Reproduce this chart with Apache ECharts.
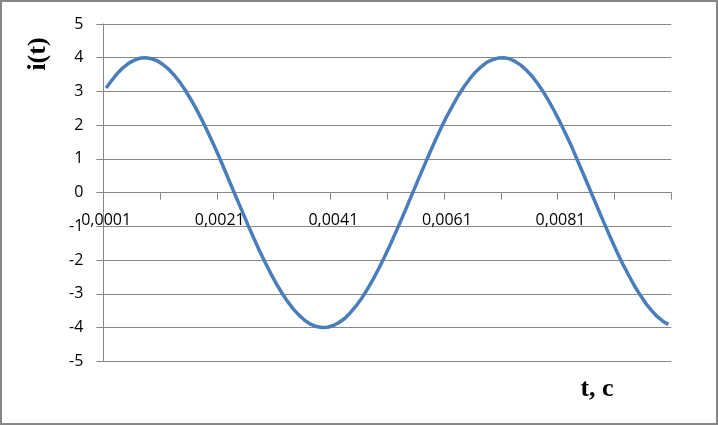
<!DOCTYPE html>
<html>
<head>
<meta charset="utf-8">
<script src="https://cdn.jsdelivr.net/npm/echarts@6/dist/echarts.min.js"></script>
<style>
html,body{margin:0;padding:0;background:#fff;}
#chart{width:718px;height:425px;}
</style>
</head>
<body>
<div id="chart"></div>
<script>
// Time categories, seconds (decimal comma as in the original)
const categories = [
"0,0001","0,0002","0,0003","0,0004","0,0005","0,0006","0,0007","0,0008","0,0009","0,0010",
"0,0011","0,0012","0,0013","0,0014","0,0015","0,0016","0,0017","0,0018","0,0019","0,0020",
"0,0021","0,0022","0,0023","0,0024","0,0025","0,0026","0,0027","0,0028","0,0029","0,0030",
"0,0031","0,0032","0,0033","0,0034","0,0035","0,0036","0,0037","0,0038","0,0039","0,0040",
"0,0041","0,0042","0,0043","0,0044","0,0045","0,0046","0,0047","0,0048","0,0049","0,0050",
"0,0051","0,0052","0,0053","0,0054","0,0055","0,0056","0,0057","0,0058","0,0059","0,0060",
"0,0061","0,0062","0,0063","0,0064","0,0065","0,0066","0,0067","0,0068","0,0069","0,0070",
"0,0071","0,0072","0,0073","0,0074","0,0075","0,0076","0,0077","0,0078","0,0079","0,0080",
"0,0081","0,0082","0,0083","0,0084","0,0085","0,0086","0,0087","0,0088","0,0089","0,0090",
"0,0091","0,0092","0,0093","0,0094","0,0095","0,0096","0,0097","0,0098","0,0099","0,0100"
];
// Current i(t) values
const currentValues = [
3.10,3.33,3.54,3.71,3.84,3.93,3.99,4.00,3.97,3.91,
3.80,3.66,3.48,3.27,3.02,2.74,2.44,2.11,1.76,1.40,
1.02,0.62,0.22,-0.18,-0.57,-0.97,-1.35,-1.72,-2.07,-2.40,
-2.71,-2.99,-3.24,-3.46,-3.64,-3.79,-3.90,-3.97,-4.00,-3.99,
-3.94,-3.85,-3.73,-3.56,-3.36,-3.13,-2.86,-2.57,-2.25,-1.91,
-1.55,-1.17,-0.79,-0.39,0.01,0.41,0.80,1.19,1.57,1.93,
2.27,2.58,2.88,3.14,3.37,3.57,3.73,3.86,3.94,3.99,
4.00,3.97,3.89,3.78,3.63,3.45,3.23,2.98,2.70,2.39,
2.06,1.71,1.35,0.95,0.56,0.16,-0.24,-0.64,-1.03,-1.41,
-1.78,-2.13,-2.45,-2.76,-3.03,-3.28,-3.49,-3.67,-3.81,-3.91
];
const yMin = -5, yMax = 5, yStep = 1;
const yTitle = "i(t)";
const xTitle = "t, c";

const gray = "#868686";
const gridTop = 24, gridBottom = 63.7, chartH = 425;
// offset that puts the category axis (line, ticks, labels) on the zero line
const plotH = chartH - gridTop - gridBottom;
const zeroOffset = -plotH * (0 - yMin) / (yMax - yMin);

const chart = echarts.init(document.getElementById('chart'), null, {renderer:'canvas'});
chart.setOption({
  animation:false,
  backgroundColor:'#ffffff',
  grid:{left:103.3, right:46.7, top:gridTop, bottom:gridBottom, containLabel:false},
  xAxis:{
    type:'category',
    data:categories,
    boundaryGap:true,
    position:'bottom',
    offset:zeroOffset,
    axisLine:{onZero:false, lineStyle:{color:gray, width:1}},
    axisTick:{show:true, inside:false, length:7, interval:9, lineStyle:{color:gray, width:1}},
    axisLabel:{interval:19, margin:20, color:'#000', fontFamily:'Open Sans', fontSize:16},
    splitLine:{show:false}
  },
  yAxis:{
    type:'value',
    min:yMin, max:yMax, interval:yStep,
    axisLine:{show:true, lineStyle:{color:gray, width:1}},
    axisTick:{show:true, inside:false, length:7, lineStyle:{color:gray, width:1}},
    axisLabel:{margin:20, color:'#000', fontFamily:'Open Sans', fontSize:16},
    splitLine:{show:true, lineStyle:{color:gray, width:1}}
  },
  series:[{
    type:'line',
    data:currentValues,
    showSymbol:false,
    symbol:'none',
    smooth:false,
    lineStyle:{color:'#4A7EBB', width:3.5},
    itemStyle:{color:'#4A7EBB'}
  }],
  graphic:[
    {type:'rect', shape:{x:1, y:1, width:716, height:423}, style:{fill:null, stroke:gray, lineWidth:2}, silent:true},
    {type:'text', x:38.5, y:54, rotation:Math.PI/2, style:{text:yTitle, font:'bold 26px "Liberation Serif"', fill:'#000', textAlign:'center', textVerticalAlign:'middle'}},
    {type:'text', x:597, y:389, style:{text:xTitle, font:'bold 26px "Liberation Serif"', fill:'#000', textAlign:'center', textVerticalAlign:'middle'}}
  ]
});
</script>
</body>
</html>
